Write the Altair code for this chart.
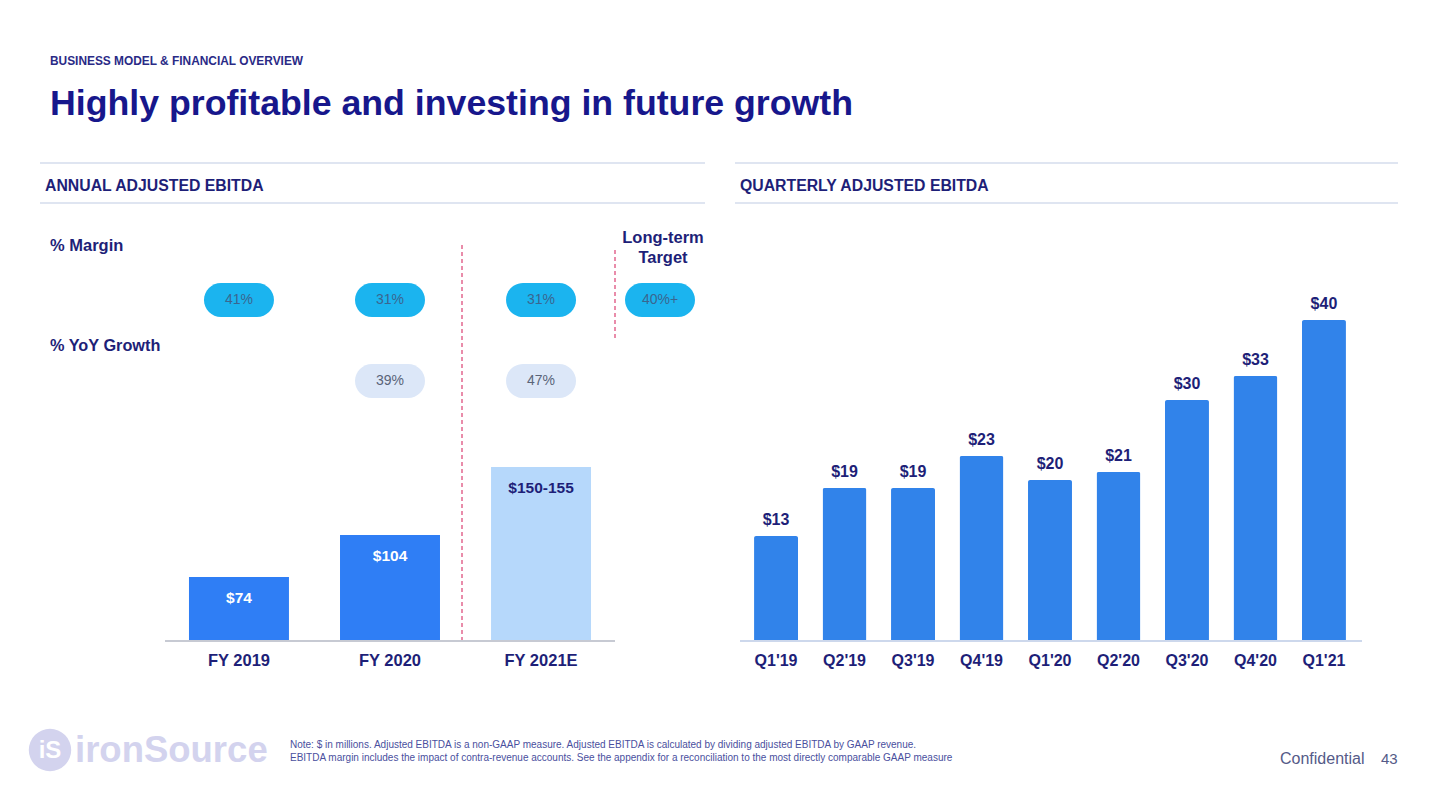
import altair as alt
import pandas as pd

# ---------------- data ----------------
annual_categories = ["FY 2019", "FY 2020", "FY 2021E"]
annual_values = [74, 104, 152.5]
annual_labels = ["$74", "$104", "$150-155"]
annual_kind = ["actual", "actual", "estimate"]
margin_labels = ["41%", "31%", "31%"]
growth_labels = ["", "39%", "47%"]
target_margin = ["40%+"]

quarters = ["Q1'19", "Q2'19", "Q3'19", "Q4'19", "Q1'20", "Q2'20", "Q3'20", "Q4'20", "Q1'21"]
quarter_values = [13, 19, 19, 23, 20, 21, 30, 33, 40]
quarter_labels = ["$13", "$19", "$19", "$23", "$20", "$21", "$30", "$33", "$40"]

O = 8  # page margin offset
FONT = "Liberation Sans"
NAVY = "#1e1f78"
TITLE = "#17178c"

annual_df = pd.DataFrame({
    "category": annual_categories,
    "value": annual_values,
    "label": annual_labels,
    "kind": annual_kind,
    "margin": margin_labels,
    "growth": growth_labels,
})
quarter_df = pd.DataFrame({"quarter": quarters, "value": quarter_values, "label": quarter_labels})


def txt(text, x, y, size, color, weight="bold", align="left", baseline="middle"):
    return alt.Chart(pd.DataFrame({"t": [text]})).mark_text(
        align=align, baseline=baseline, fontSize=size, fontWeight=weight, color=color, font=FONT
    ).encode(x=alt.value(x - O), y=alt.value(y - O), text="t:N")


def hline(x1, x2, y, color, width, dash=None):
    kw = dict(color=color, strokeWidth=width)
    if dash:
        kw["strokeDash"] = dash
    return alt.Chart(pd.DataFrame({"a": [0]})).mark_rule(**kw).encode(
        x=alt.value(x1 - O), x2=alt.value(x2 - O), y=alt.value(y - O)
    )


def vline(x, y1, y2, color, width, dash=None):
    kw = dict(color=color, strokeWidth=width)
    if dash:
        kw["strokeDash"] = dash
    return alt.Chart(pd.DataFrame({"a": [0]})).mark_rule(**kw).encode(
        x=alt.value(x - O), y=alt.value(y1 - O), y2=alt.value(y2 - O)
    )


# ---------------- annual chart ----------------
xA = alt.X("category:N", sort=annual_categories, axis=None,
           scale=alt.Scale(range=[163 - O, 617 - O], paddingInner=0.338, paddingOuter=0.172))
yA = alt.Y("value:Q", axis=None,
           scale=alt.Scale(domain=[29, 200], range=[640 - O, 640 - O - 1.4 * 171], zero=False, nice=False))
baseA = alt.Chart(annual_df)

a_bars = baseA.mark_bar().encode(
    x=xA, y=yA, y2=alt.datum(29),
    color=alt.Color("kind:N", legend=None,
                    scale=alt.Scale(domain=["actual", "estimate"], range=["#2f7ef5", "#b6d8fb"])),
)
a_vals = baseA.mark_text(dy=21, fontSize=15.5, fontWeight="bold", font=FONT).encode(
    x=xA, y=yA, text="label:N",
    color=alt.condition("datum.kind == 'actual'", alt.value("white"), alt.value(NAVY)),
)
a_cats = baseA.mark_text(fontSize=16.5, fontWeight="bold", font=FONT, color=NAVY).encode(
    x=xA, y=alt.value(661 - O), text="category:N"
)
m_pills = baseA.mark_bar(width=70, cornerRadius=17, color="#1bb4ef").encode(
    x=xA, y=alt.value(283 - O), y2=alt.value(317 - O)
)
m_text = baseA.mark_text(fontSize=14, font=FONT, color="#3a6690").encode(
    x=xA, y=alt.value(300 - O), text="margin:N"
)
g_pills = baseA.transform_filter("datum.growth != ''").mark_bar(
    width=70, cornerRadius=17, color="#dce7f8").encode(
    x=xA, y=alt.value(364 - O), y2=alt.value(398 - O)
)
g_text = baseA.transform_filter("datum.growth != ''").mark_text(
    fontSize=14, font=FONT, color="#5a6478").encode(
    x=xA, y=alt.value(381 - O), text="growth:N"
)
annual = alt.layer(a_bars, a_vals, a_cats, m_pills, m_text, g_pills, g_text)

# ---------------- quarterly chart ----------------
xQ = alt.X("quarter:N", sort=quarters, axis=None,
           scale=alt.Scale(range=[733.5 - O, 1366.5 - O], paddingInner=0.358, paddingOuter=0.3))
yQ = alt.Y("value:Q", axis=None,
           scale=alt.Scale(domain=[0, 50], range=[640 - O, 640 - O - 400], nice=False))
baseQ = alt.Chart(quarter_df)
q_bars = baseQ.mark_bar(color="#3183ea", cornerRadiusEnd=2).encode(x=xQ, y=yQ)
q_vals = baseQ.mark_text(dy=-16, fontSize=16, fontWeight="bold", font=FONT, color=NAVY).encode(
    x=xQ, y=yQ, text="label:N"
)
q_cats = baseQ.mark_text(fontSize=16, fontWeight="bold", font=FONT, color=NAVY).encode(
    x=xQ, y=alt.value(661 - O), text="quarter:N"
)
quarterly = alt.layer(q_bars, q_vals, q_cats)

# ---------------- target pill ----------------
target_df = pd.DataFrame({"t": target_margin})
t_pill = alt.Chart(target_df).mark_bar(cornerRadius=17, color="#1bb4ef").encode(
    x=alt.value(625 - O), x2=alt.value(695 - O), y=alt.value(283 - O), y2=alt.value(317 - O)
)
t_text = alt.Chart(target_df).mark_text(fontSize=14, font=FONT, color="#3a6690").encode(
    x=alt.value(660 - O), y=alt.value(300 - O), text="t:N"
)

# ---------------- decorations ----------------
logo_circle = alt.Chart(pd.DataFrame({"a": [0]})).mark_point(
    shape="circle", filled=True, size=1800, color="#d3d3ee", opacity=1).encode(
    x=alt.value(50 - O), y=alt.value(750 - O)
)

decor = [
    txt("BUSINESS MODEL & FINANCIAL OVERVIEW", 50, 61, 11.9, "#2a2a86"),
    txt("Highly profitable and investing in future growth", 50, 115, 35.7, TITLE, baseline="alphabetic"),
    hline(40, 705, 163, "#dfe5f1", 2),
    hline(40, 705, 203, "#dfe5f1", 2),
    hline(735, 1398, 163, "#dfe5f1", 2),
    hline(735, 1398, 203, "#dfe5f1", 2),
    txt("ANNUAL ADJUSTED EBITDA", 45, 186, 15.8, NAVY),
    txt("QUARTERLY ADJUSTED EBITDA", 740, 186, 15.8, NAVY),
    txt("% Margin", 50, 246, 16.5, NAVY),
    txt("% YoY Growth", 50, 346, 16.3, NAVY),
    txt("Long-term", 663, 238, 16.5, NAVY, align="center"),
    txt("Target", 663, 258, 16.5, NAVY, align="center"),
    vline(462, 245, 640, "#e2678f", 1.5, [4, 3]),
    vline(615, 250, 340, "#e2678f", 1.5, [4, 3]),
    hline(165, 615, 641, "#b4b8c4", 1.5),
    hline(740, 1362, 641, "#cdd8ec", 2),
    t_pill, t_text,
    logo_circle,
    txt("iS", 50, 751, 24, "white", align="center"),
    txt("ironSource", 75, 751, 36.5, "#d3d3ee"),
    txt("Note: $ in millions. Adjusted EBITDA is a non-GAAP measure. Adjusted EBITDA is calculated by dividing adjusted EBITDA by GAAP revenue.",
        290, 745, 10, "#4a4f9e", weight="normal"),
    txt("EBITDA margin includes the impact of contra-revenue accounts. See the appendix for a reconciliation to the most directly comparable GAAP measure",
        290, 758, 10, "#4a4f9e", weight="normal"),
    txt("Confidential", 1280, 759, 16, "#555a88", weight="normal"),
    txt("43", 1381, 759, 15, "#555a88", weight="normal"),
]

chart = alt.layer(annual, quarterly, *decor).resolve_scale(
    x="independent", y="independent", color="independent"
).properties(
    width=1424, height=794, padding=0,
    autosize=alt.AutoSizeParams(type="none"),
    background="white",
).configure_view(stroke=None)

chart.save("out.html", embed_options={"renderer": "svg", "actions": False})
